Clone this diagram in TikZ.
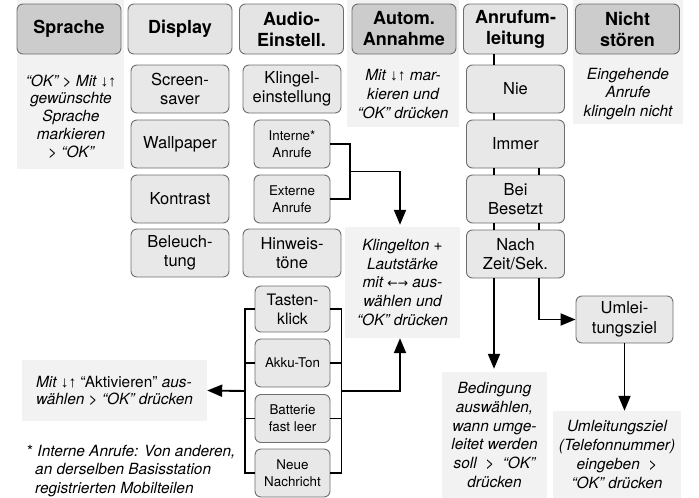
\documentclass[tikz,border=0pt]{standalone}
\usepackage{fontspec}
\setmainfont{TeX Gyre Heros}
\newfontfamily\arr{Liberation Sans}
\newfontfamily\harr[Scale=0.8]{DejaVu Sans}
\usetikzlibrary{arrows.meta}
\definecolor{bordergray}{HTML}{6E6E6E}
\definecolor{hdrlight}{HTML}{E4E4E4}
\definecolor{hdrdark}{HTML}{CCCCCC}
\definecolor{itemfill}{HTML}{E8E8E8}
\definecolor{panelbg}{HTML}{F2F2F2}
\tikzset{
 box/.style={draw=bordergray, line width=0.9pt, rounded corners=6pt, align=center, inner sep=0pt},
 hdr/.style={box, fill=hdrlight, minimum width=104pt, minimum height=50pt, font=\fontsize{18}{21}\selectfont\bfseries},
 hdrd/.style={hdr, fill=hdrdark},
 item/.style={box, fill=itemfill, minimum width=98pt, minimum height=48pt, font=\fontsize{16.5}{19.5}\selectfont},
 sitem/.style={box, fill=itemfill, minimum width=76pt, minimum height=48pt, font=\fontsize{13.4}{16.7}\selectfont},
 panel/.style={fill=panelbg, draw=none, inner sep=0pt},
 note/.style={align=center, inner sep=0pt, font=\fontsize{15.4}{18.8}\selectfont\itshape},
 conn/.style={line width=1.9pt, black},
 arrow/.style={conn, -{Triangle[length=15pt,width=12pt]}},
}
\begin{document}
\begin{tikzpicture}[x=1pt,y=-1pt]
\useasboundingbox (0,0) rectangle (699,498);
% panels
\node[panel, minimum width=107pt, minimum height=169pt] (spp) at (70.5,84.5) {};
\node[panel, minimum width=112pt, minimum height=127pt] (aap) at (403,63.5) {};
\node[panel, minimum width=110pt, minimum height=124pt] (nsp) at (628,62) {};
% headers
\node[hdrd] (spr) at (69,29) {Sprache};
\node[hdr] (dis) at (180,29) {Display};
\node[hdr] (aud) at (291.5,29) {Audio-\\Einstell.};
\node[hdrd] (aut) at (404,29) {Autom.\\Annahme};
\node[hdr] (anr) at (515.5,29) {Anrufum-\\leitung};
\node[hdrd] (nst) at (627.5,29) {Nicht\\stören};
% notes under headers
\node[note, font=\fontsize{15.4}{17.8}\selectfont\itshape] (spn) at (71,116.5) {“OK” > Mit {\upshape\arr ↓↑}\\gewünschte\\Sprache\\markieren\\> “OK”};
\node[note] (aun) at (403,94) {Mit {\upshape\arr ↓↑} mar-\\kieren und\\“OK” drücken};
\node[note] (nsn) at (628,94) {Eingehende\\Anrufe\\klingeln nicht};
% Display column
\node[item] (scr) at (180,89) {Screen-\\saver};
\node[item] (wal) at (180,144) {Wallpaper};
\node[item] (kon) at (180,199) {Kontrast};
\node[item] (bel) at (180,253) {Beleuch-\\tung};
% Audio column
\node[item] (kli) at (292,89) {Klingel-\\einstellung};
\node[sitem] (int) at (292,144) {Interne*\\Anrufe};
\node[sitem] (ext) at (292,199) {Externe\\Anrufe};
\node[item] (hin) at (292,253) {Hinweis-\\töne};
\node[sitem, minimum width=75pt, minimum height=46pt, font=\fontsize{15.8}{19}\selectfont] (tk) at (292.5,309) {Tasten-\\klick};
\node[sitem, minimum width=75pt] (ak) at (292.5,363) {Akku-Ton};
\node[sitem, minimum width=75pt] (bt) at (292.5,418.5) {Batterie\\fast leer};
\node[sitem, minimum width=75pt] (nn) at (292.5,473) {Neue\\Nachricht};
% Anrufumleitung column
\node[item] (nie) at (515.5,89) {Nie};
\node[item] (imm) at (515.5,144) {Immer};
\node[item] (bei) at (515.5,199) {Bei\\Besetzt};
\node[item] (nac) at (515.5,254) {Nach\\Zeit/Sek.};
\node[item, minimum width=97pt, minimum height=47pt] (umz) at (624.5,319.5) {Umlei-\\tungsziel};
% text panels
\node[panel, note, minimum width=115pt, minimum height=111pt] (klp) at (402.5,282.5) {Klingelton +\\Lautstärke\\mit {\upshape\harr ←→} aus-\\wählen und\\“OK” drücken};
\node[panel, note, align=left, minimum width=185pt, minimum height=61pt, font=\fontsize{15.4}{17}\selectfont\itshape] (mitp) at (114.5,390.5) {Mit {\upshape\arr ↓↑} {\upshape “Aktivieren”} aus-\\wählen > “OK” drücken};
\node[panel, note, minimum width=105pt, minimum height=126pt] (bed) at (494.5,435) {Bedingung\\auswählen,\\wann umge-\\leitet werden\\soll~~>~~“OK”\\drücken};
\node[panel, note, minimum width=128pt, minimum height=87pt] (umzp) at (617,454.5) {Umleitungsziel\\(Telefonnummer)\\eingeben~~>\\“OK” drücken};
% footnote
\node[note, align=left, anchor=west] (fn) at (27,471) {{\upshape*} Interne Anrufe: Von anderen,\\\hspace*{8pt}an derselben Basisstation\\\hspace*{8pt}registrierten Mobilteilen};
% connectors: Anrufumleitung
\draw[conn] ([xshift=-21.5pt]anr.south) -- ([xshift=-21.5pt]nie.north);
\draw[conn] ([xshift=-21.5pt]nie.south) -- ([xshift=-21.5pt]imm.north);
\draw[conn] ([xshift=-21.5pt]imm.south) -- ([xshift=-21.5pt]bei.north);
\draw[conn] ([xshift=23.5pt]imm.south) -- ([xshift=23.5pt]bei.north);
\draw[conn] ([xshift=-21.5pt]bei.south) -- ([xshift=-21.5pt]nac.north);
\draw[conn] ([xshift=23.5pt]bei.south) -- ([xshift=23.5pt]nac.north);
\draw[arrow, shorten >=3pt] ([xshift=-21.5pt]nac.south) -- ([xshift=-21.5pt]nac.south |- bed.north);
\draw[arrow] ([xshift=23.5pt]nac.south) |- (umz.west);
\draw[arrow] (umz.south) -- (umz.south |- umzp.north);
% Interne / Externe
\coordinate (j1) at (350,171.5);
\draw[conn] (int.east) -| (j1) |- (ext.east);
\draw[arrow, shorten >=2pt] (j1) -| ([xshift=-2.5pt]klp.north);
% Hinweistoene bracket
\draw[conn] (tk.west) -- ++(-10,0) |- (nn.west);
\draw[conn] (ak.west) -- ++(-10,0);
\draw[conn] (bt.west) -- ++(-10,0);
\draw[conn] (tk.east) -- ++(11,0) |- (nn.east);
\draw[conn] (ak.east) -- ++(11,0);
\draw[conn] (bt.east) -- ++(11,0);
\coordinate (bl) at (245,391);
\coordinate (br) at (341,391);
\draw[arrow] (bl) -- (mitp.east);
\draw[arrow] (br) -| ([xshift=-2.5pt]klp.south);
\end{tikzpicture}
\end{document}
